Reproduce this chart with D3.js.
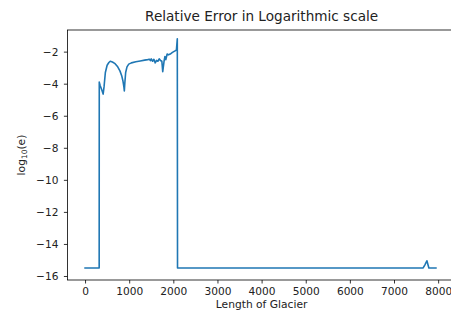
<!DOCTYPE html>
<html>
<head>
<meta charset="utf-8">
<script src="https://cdn.jsdelivr.net/npm/d3@7"></script>
<style>
  body { margin: 0; background: #fff; }
  svg { display: block; font-family: "DejaVu Sans", sans-serif; }
</style>
</head>
<body>
<svg id="chart" width="451" height="320"></svg>
<script>
// Data
const lengthValues = [0, 100, 200, 300, 320, 322, 340, 380, 410, 430, 460, 500, 540, 570, 620, 680, 740, 790, 830, 860, 880, 890, 900, 920, 950, 990, 1050, 1150, 1250, 1350, 1420, 1460, 1480, 1500, 1530, 1560, 1590, 1620, 1650, 1680, 1710, 1740, 1760, 1790, 1810, 1830, 1860, 1890, 1930, 1980, 2040, 2070, 2090, 2095, 2100, 3000, 4000, 5000, 6000, 7000, 7660, 7700, 7745, 7790, 7800, 7950];
const logErrorValues = [-15.5, -15.5, -15.5, -15.5, -15.5, -3.9, -4.1, -4.4, -4.65, -4.2, -3.3, -2.85, -2.68, -2.6, -2.65, -2.75, -2.95, -3.2, -3.5, -3.85, -4.2, -4.45, -4.0, -3.3, -2.95, -2.78, -2.7, -2.63, -2.58, -2.53, -2.5, -2.48, -2.56, -2.45, -2.6, -2.48, -2.7, -2.55, -2.6, -2.45, -2.55, -2.6, -3.25, -2.6, -2.3, -2.5, -2.15, -2.2, -2.15, -2.05, -1.95, -1.9, -1.2, -15.5, -15.5, -15.5, -15.5, -15.5, -15.5, -15.5, -15.5, -15.3, -15.05, -15.5, -15.5, -15.5];
const xTicks = [0, 1000, 2000, 3000, 4000, 5000, 6000, 7000, 8000];
const yTicks = [-2, -4, -6, -8, -10, -12, -14, -16];

const svg = d3.select("#chart");
const mLeft = 67.4, mRight = 455.8, mTop = 30, mBottom = 280;

const x = d3.scaleLinear().domain([-400, 8400]).range([mLeft, mRight]);
const y = d3.scaleLinear().domain([-16.25, -0.65]).range([mBottom, mTop]);

svg.append("rect").attr("width", 451).attr("height", 320).attr("fill", "#fff");

const data = lengthValues.map((v, i) => [v, logErrorValues[i]]);

svg.append("path")
  .datum(data)
  .attr("fill", "none")
  .attr("stroke", "#1f77b4")
  .attr("stroke-width", 1.6)
  .attr("stroke-linejoin", "round")
  .attr("stroke-linecap", "square")
  .attr("d", d3.line().x(d => x(d[0])).y(d => y(d[1])));

// frame
svg.append("rect")
  .attr("x", mLeft).attr("y", mTop)
  .attr("width", mRight - mLeft).attr("height", mBottom - mTop)
  .attr("fill", "none").attr("stroke", "#000").attr("stroke-width", 0.8);

const fmt = d3.format("d");
const xAxis = svg.append("g").attr("transform", `translate(0,${mBottom})`)
  .call(d3.axisBottom(x).tickValues(xTicks).tickFormat(fmt).tickSize(3.5).tickPadding(3.5));
const yAxis = svg.append("g").attr("transform", `translate(${mLeft},0)`)
  .call(d3.axisLeft(y).tickValues(yTicks).tickFormat(d => fmt(d).replace("-", "\u2212")).tickSize(3.5).tickPadding(5.5));

[xAxis, yAxis].forEach(g => {
  g.select(".domain").remove();
  g.selectAll(".tick line").attr("stroke", "#000").attr("stroke-width", 0.8);
  g.selectAll(".tick text").attr("fill", "#222").style("font-size", "10.6px").style("font-family", "DejaVu Sans, sans-serif");
});

svg.append("text")
  .attr("x", (mLeft + mRight) / 2).attr("y", 21)
  .attr("text-anchor", "middle")
  .style("font-size", "13.6px").attr("fill", "#222")
  .text("Relative Error in Logarithmic scale");

svg.append("text")
  .attr("x", (mLeft + mRight) / 2).attr("y", 307.5)
  .attr("text-anchor", "middle")
  .style("font-size", "10.7px").attr("fill", "#222")
  .text("Length of Glacier");

const yl = svg.append("text")
  .attr("transform", `translate(25,${(mTop + mBottom) / 2}) rotate(-90)`)
  .attr("text-anchor", "middle")
  .style("font-size", "10.7px").attr("fill", "#222");
yl.append("tspan").text("log");
yl.append("tspan").attr("dy", 2).style("font-size", "7.5px").text("10");
yl.append("tspan").attr("dy", -2).text("(e)");
</script>
</body>
</html>
